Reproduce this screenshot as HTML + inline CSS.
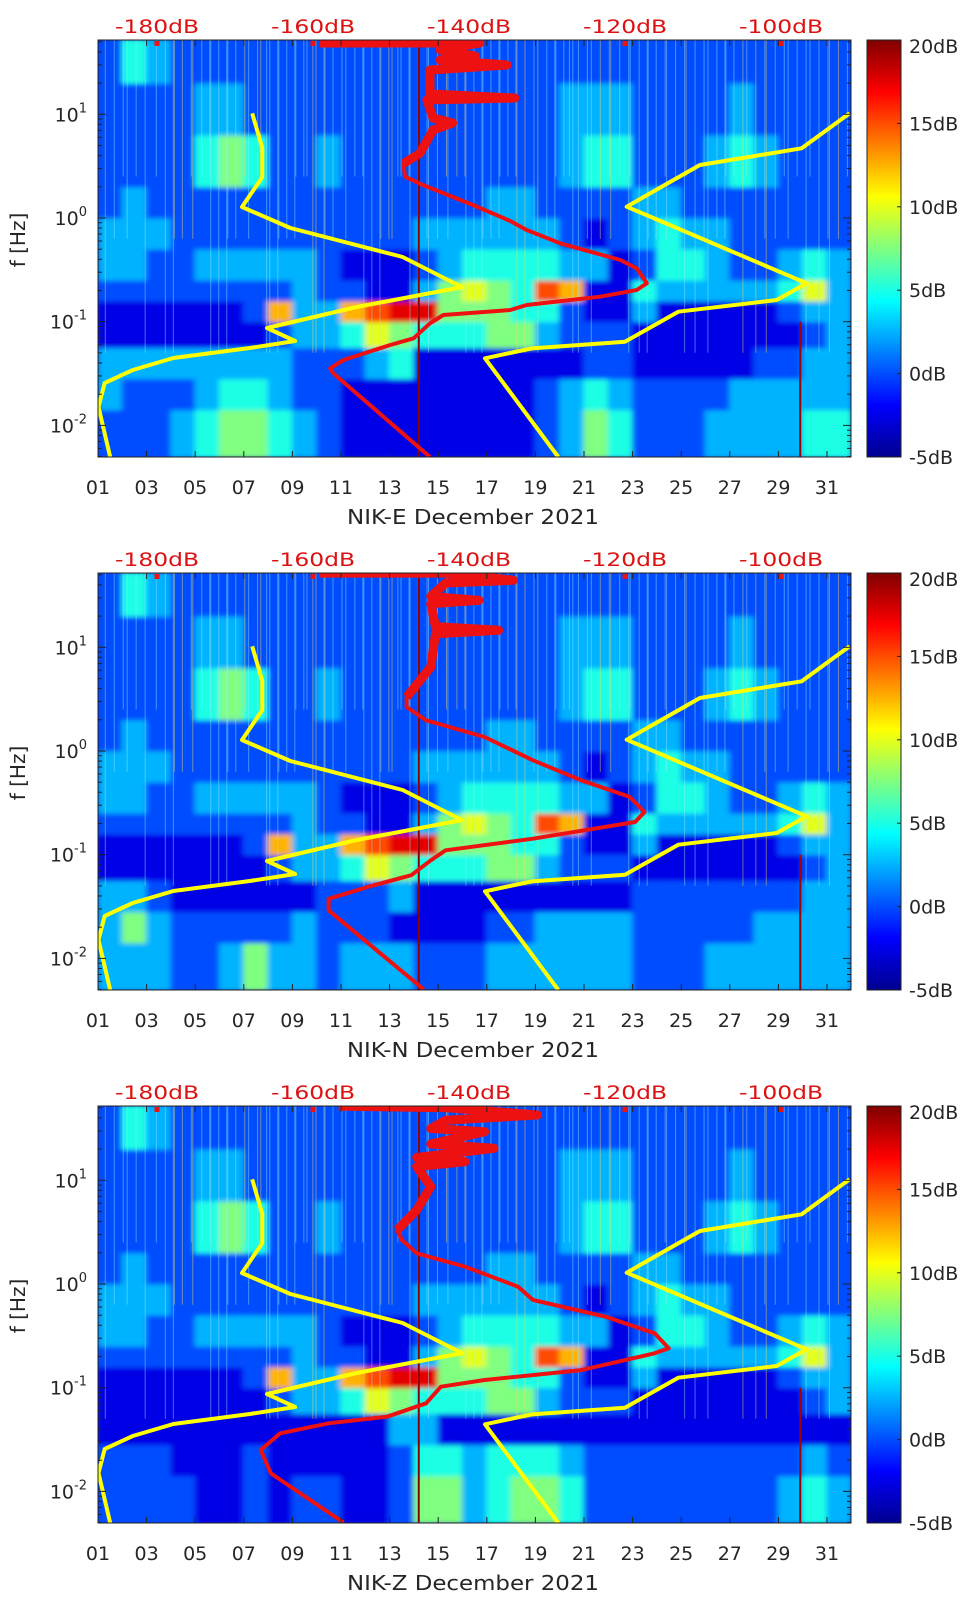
<!DOCTYPE html>
<html><head><meta charset="utf-8">
<style>
html,body{margin:0;padding:0;background:#fff;}
svg{display:block;}
text{font-family:"DejaVu Sans","Liberation Sans",sans-serif;}
</style></head>
<body>
<svg id="fig" width="962" height="1599" viewBox="0 0 962 1599" xmlns="http://www.w3.org/2000/svg">
<defs>
<filter id="soft" x="-5%" y="-5%" width="110%" height="110%"><feGaussianBlur stdDeviation="3 2.5"/></filter>
<linearGradient id="jet" x1="0" y1="1" x2="0" y2="0">
<stop offset="0" stop-color="#00008f"/><stop offset="0.125" stop-color="#0000ff"/><stop offset="0.375" stop-color="#00ffff"/><stop offset="0.625" stop-color="#ffff00"/><stop offset="0.875" stop-color="#ff0000"/><stop offset="1" stop-color="#800000"/>
</linearGradient>
</defs>
</svg>
<script>
// ---- data ----
const days = [1,3,5,7,9,11,13,15,17,19,21,23,25,27,29,31];
const dayLabels = ["01","03","05","07","09","11","13","15","17","19","21","23","25","27","29","31"];
const dbTicks = [-180,-160,-140,-120,-100];
const cbTicks = [-5,0,5,10,15,20];
const decades = [1,0,-1,-2];
const panelNames = ["NIK-E December 2021","NIK-N December 2021","NIK-Z December 2021"];
const rowEdges = [-2.31,-1.85,-1.55,-1.25,-1.0,-0.8,-0.6,-0.3,0,0.3,0.8,1.3,1.72];
// heat values: level 0..9 -> dB = -5 + 2.5*level, per day 1..31
const rowsE = [
[2,2,2,3,4,5,5,4,3,2,1,1,1,1,1,1,1,1,2,3,5,4,2,2,2,3,3,3,3,4,4],
[3,2,2,2,3,4,4,3,2,2,1,1,1,1,1,1,1,1,2,3,4,3,2,2,2,2,3,3,3,3,3],
[3,3,3,3,3,3,3,3,2,2,2,3,4,1,1,1,1,1,1,1,2,2,1,1,1,1,1,2,2,3,3],
[1,1,1,1,1,1,1,2,3,3,4,6,5,4,4,4,5,5,3,2,2,2,1,1,1,1,1,1,1,2,3],
[1,1,1,1,1,1,2,7,3,3,7,8,9,9,5,5,5,4,4,2,1,1,3,1,1,1,1,1,2,3,3],
[2,2,2,2,2,2,2,2,3,2,2,1,1,3,5,6,5,4,8,7,1,1,4,3,3,3,3,3,4,6,3],
[3,3,2,2,3,3,3,3,3,2,1,1,1,2,3,4,4,4,4,3,3,1,2,4,4,3,2,2,3,4,3],
[3,3,3,2,2,2,2,2,2,2,2,2,2,3,3,3,3,3,3,2,1,2,3,4,3,3,2,2,2,2,2],
[2,3,2,2,2,2,2,2,2,2,2,2,2,2,2,2,3,3,2,2,2,2,3,3,2,2,2,2,2,2,2],
[2,2,2,2,4,5,4,2,2,3,2,2,2,2,2,2,2,2,2,3,4,4,2,2,2,3,4,3,2,2,2],
[2,2,2,2,3,3,2,2,2,2,2,2,2,2,2,2,2,2,2,3,3,3,2,2,2,2,3,2,2,2,2],
[2,4,3,2,2,2,2,2,2,2,2,2,2,2,2,2,2,2,2,2,2,2,2,2,2,2,2,2,2,2,2]];
const lowN = [
[3,3,3,2,2,3,5,3,3,2,3,3,3,2,2,2,3,3,3,3,3,3,2,2,2,3,3,3,3,3,3],
[3,5,3,2,2,2,2,2,3,2,2,2,1,1,1,1,2,2,3,3,3,3,2,2,2,2,2,3,3,3,3],
[3,3,2,1,1,1,1,1,1,2,2,2,3,1,1,1,1,1,1,1,1,1,2,2,2,2,2,2,2,3,3]];
const lowZ = [
[2,2,2,2,1,1,2,1,2,2,1,1,2,5,5,3,4,5,5,4,2,2,2,2,2,2,2,2,3,4,3],
[2,2,2,1,1,1,2,1,1,1,1,1,2,4,4,3,4,4,4,3,2,2,2,2,2,2,2,2,2,3,2],
[1,1,1,1,1,1,1,1,1,1,1,1,3,3,1,1,1,1,1,1,1,1,1,1,1,1,1,1,1,1,1]];
// model curves (dB on top axis vs log10 f)
const lowModelDb = [-186.0,-187.5,-186.7,-183.1,-177.9,-168.1,-162.3,-165.9,-154.4,-140.9,-148.5,-162.9,-169.1,-166.5,-166.5,-167.8];
const lowModelLf = [-2.305,-1.823,-1.591,-1.466,-1.350,-1.254,-1.186,-1.061,-0.858,-0.666,-0.376,-0.096,0.106,0.395,0.675,1.01];
const highModelDb = [-128.55,-137.95,-131.96,-120.0,-113.17,-100.55,-96.7,-119.78,-110.4,-97.35,-91.2];
const highModelLf = [-2.305,-1.353,-1.257,-1.193,-0.904,-0.791,-0.630,0.109,0.511,0.672,1.01];
const redDbE = [-145.0,-157.4,-157.8,-156.1,-150.1,-147.1,-145.0,-143.3,-134.7,-132.6,-123.2,-118.5,-117.2,-118.5,-120.6,-128.3,-132.6,-134.7,-139.5,-145.9,-148.2,-148.4,-146.3,-144.6,-142.1,-144.6,-145.4,-134.1,-145.0,-145.0,-135.1,-143.7,-139.2,-143.7,-138.6,-159.1];
const redLfE = [-2.305,-1.498,-1.449,-1.369,-1.225,-1.160,-1.015,-0.935,-0.887,-0.839,-0.759,-0.694,-0.630,-0.485,-0.405,-0.244,-0.116,-0.029,0.125,0.318,0.398,0.527,0.624,0.849,0.916,0.964,1.138,1.157,1.196,1.427,1.475,1.524,1.562,1.620,1.688,1.688];
const redDbN = [-145.8,-158.0,-158.0,-153.0,-147.4,-144.9,-143.0,-131.8,-118.7,-117.5,-119.4,-125.6,-131.8,-138.0,-145.5,-148.0,-148.0,-144.9,-144.3,-136.2,-144.3,-144.9,-138.7,-144.9,-143.0,-134.3,-143.0,-159.2];
const redLfN = [-2.30,-1.536,-1.425,-1.311,-1.198,-1.054,-0.958,-0.846,-0.685,-0.588,-0.443,-0.283,-0.09,0.135,0.296,0.424,0.52,0.81,1.131,1.164,1.20,1.42,1.453,1.49,1.62,1.646,1.716,1.716];
const redDbZ = [-156.1,-165.4,-166.7,-164.2,-158.0,-150.5,-145.5,-143.6,-138.0,-125.6,-116.2,-114.4,-116.2,-122.5,-131.8,-133.7,-140.5,-146.7,-148.6,-149.2,-146.7,-144.9,-146.7,-140.5,-146.7,-136.8,-144.9,-138.0,-144.9,-143.0,-131.2,-143.0,-156.7];
const redLfZ = [-2.30,-1.826,-1.60,-1.44,-1.343,-1.28,-1.15,-0.99,-0.926,-0.83,-0.668,-0.62,-0.475,-0.315,-0.154,-0.026,0.167,0.296,0.424,0.52,0.714,0.938,1.131,1.179,1.22,1.309,1.35,1.469,1.50,1.58,1.63,1.70,1.716];
const spikeDays = [1.3,2.2,3.4,4.1,4.9,5.6,6.3,7.2,7.7,8.4,9.1,9.6,10.3,11.2,11.9,12.6,13.1,13.8,14.6,15.4,16.1,16.8,17.5,18.2,19.1,19.8,20.4,21.3,22.1,22.9,23.6,24.4,25.2,26.1,26.8,27.7,28.5,29.4,30.3,31.1];

// ---- layout ----
const NS = "http://www.w3.org/2000/svg";
const svg = document.getElementById('fig');
const L = 98, R = 851, H = 417, tops = [40,573,1106];
const xDay = d => L + (d-1)*24.3;
const xDb = db => 157 + (db+180)*7.8;
const yLf = (top,lf) => top + 178 - lf*103.7;
function mk(tag, attrs, parent){const e=document.createElementNS(NS,tag);for(const k in attrs)e.setAttribute(k,attrs[k]);(parent||svg).appendChild(e);return e;}
function jet(v){
  let t=Math.max(0,Math.min(1,(v+5)/25));
  const r=Math.max(0,Math.min(1,1.5-Math.abs(4*t-3))), g=Math.max(0,Math.min(1,1.5-Math.abs(4*t-2))), b=Math.max(0,Math.min(1,1.5-Math.abs(4*t-1)));
  return `rgb(${Math.round(r*255)},${Math.round(g*255)},${Math.round(b*255)})`;
}
const panelRows = [rowsE, lowN.concat(rowsE.slice(3)), lowZ.concat(rowsE.slice(3))];
const reds = [[redDbE,redLfE],[redDbN,redLfN],[redDbZ,redLfZ]];
const ids = ['e','n','z'];

tops.forEach((top,p)=>{
  const g = mk('g',{});
  
  
  const cp = mk('clipPath',{id:'clip'+p},svg.querySelector('defs'));
  mk('rect',{x:L,y:top,width:R-L,height:H},cp);
  const plot = mk('g',{'clip-path':`url(#clip${p})`},g);
  
  
  mk('rect',{x:L,y:top,width:R-L,height:H,fill:'#1038d8'},plot);
  const heat = mk('g',{filter:'url(#soft)'},plot);
  panelRows[p].forEach((row,ri)=>{
    const y1=yLf(top,rowEdges[ri+1]), y0=yLf(top,rowEdges[ri]);
    row.forEach((lv,di)=>{
      const c = mk('rect',{x:xDay(di+1)-0.5,y:y1-0.5,width:25.3,height:y0-y1+1,fill:jet(-5+2.5*lv)},heat);
      
      
    });
  });
  // decorative transient spikes
  for(let k=0;k<3;k++){
    spikeDays.forEach((d,i)=>{
      const dd = d + k*0.37;
      const yb = yLf(top, (i+k)%3===0 ? -1.3 : ((i+k)%3===1 ? -0.2 : 0.4));
      const s = mk('line',{x1:xDay(dd),x2:xDay(dd),y1:top,y2:yb,stroke:(i+k)%4===0?'rgba(255,220,80,0.45)':'rgba(150,235,255,0.45)','stroke-width':1},plot);
      
      
    });
  }
  mk('line',{x1:xDay(14.2),x2:xDay(14.2),y1:top,y2:top+H,stroke:'#8b0000','stroke-width':2},plot);
  mk('line',{x1:xDay(29.9),x2:xDay(29.9),y1:yLf(top,-1.0),y2:top+H,stroke:'#a00000','stroke-width':2},plot);
  const path=(dbs,lfs)=>dbs.map((v,i)=>(i?'L':'M')+xDb(v).toFixed(1)+','+yLf(top,lfs[i]).toFixed(1)).join(' ');
  const ylo = mk('path',{d:path(lowModelDb,lowModelLf),fill:'none',stroke:'#ffff00','stroke-width':4,'stroke-linejoin':'round'},plot);
  
  
  const yhi = mk('path',{d:path(highModelDb,highModelLf),fill:'none',stroke:'#ffff00','stroke-width':4,'stroke-linejoin':'round'},plot);
  
  
  const rd = mk('path',{d:path(reds[p][0],reds[p][1]),fill:'none',stroke:'#ee1111','stroke-width':4,'stroke-linejoin':'round'},plot);
  
  
  // thick spread of the PSD at high frequencies
  const hiIdx = reds[p][1].map((v,i)=>i).filter(i=>reds[p][1][i]>0.45);
  const rdHi = mk('path',{d:hiIdx.map((i,j)=>(j?'L':'M')+xDb(reds[p][0][i]).toFixed(1)+','+yLf(top,reds[p][1][i]).toFixed(1)).join(' '),fill:'none',stroke:'#ee1111','stroke-width':9,'stroke-linejoin':'round'},plot);
  
  
  dbTicks.forEach(db=>{
    const m = mk('rect',{x:xDb(db)-2.5,y:top+1,width:5,height:5,fill:'#ee1111'},plot);
    
    
  });
  mk('rect',{x:L,y:top,width:R-L,height:H,fill:'none',stroke:'#222','stroke-width':1},g);
  days.forEach((d,i)=>{
    const x=xDay(d);
    mk('line',{x1:x,x2:x,y1:top+H,y2:top+H-6,stroke:'#222'},g);
    mk('line',{x1:x,x2:x,y1:top,y2:top+6,stroke:'#222'},g);
    const t=mk('text',{x:x,y:top+H+37,'font-size':19,'text-anchor':'middle',fill:'#262626'},g);
    t.textContent=dayLabels[i];
    
    
  });
  const xt=mk('text',{x:473,y:top+H+67,'font-size':20,'text-anchor':'middle',fill:'#262626',textLength:252,lengthAdjust:'spacingAndGlyphs'},g);
  xt.textContent=panelNames[p];
  
  
  dbTicks.forEach(db=>{
    const t=mk('text',{x:xDb(db),y:top-7,'font-size':19,'text-anchor':'middle',fill:'#dd1111',textLength:84,lengthAdjust:'spacingAndGlyphs'},g);
    t.textContent=db+'dB';
    
    
  });
  for(let e=-3;e<=1;e++){
    for(let m=1;m<10;m++){
      const lf=e+Math.log10(m); if(lf<rowEdges[0]||lf>rowEdges[12])continue;
      const y=yLf(top,lf), len=m===1?8:4;
      mk('line',{x1:L,x2:L+len,y1:y,y2:y,stroke:'#222'},g);
      mk('line',{x1:R,x2:R-len,y1:y,y2:y,stroke:'#222'},g);
    }
  }
  decades.forEach(e=>{
    const y=yLf(top,e);
    const t=mk('text',{x:87,y:y+7,'font-size':19,'text-anchor':'end',fill:'#262626'},g);
    
    
    const a=mk('tspan',{},t); a.textContent='10';
    const b=mk('tspan',{dy:-9,'font-size':13},t); b.textContent=String(e);
  });
  const yt=mk('text',{x:0,y:0,'font-size':20,'text-anchor':'middle',fill:'#262626',transform:`translate(25,${top+200}) rotate(-90)`},g);
  yt.textContent='f [Hz]';
  
  
  const cb=mk('rect',{x:867,y:top,width:34,height:H,fill:'url(#jet)',stroke:'#222','stroke-width':1},g);
  
  
  cbTicks.forEach(v=>{
    const y=top+H-(v+5)/25*H;
    mk('line',{x1:901,x2:897,y1:y,y2:y,stroke:'#222'},g);
    const t=mk('text',{x:909,y:Math.min(Math.max(y+7,top+13),top+H+12),'font-size':19,fill:'#262626'},g);
    t.textContent=v+'dB';
    
    
  });
});
</script>
</body></html>
